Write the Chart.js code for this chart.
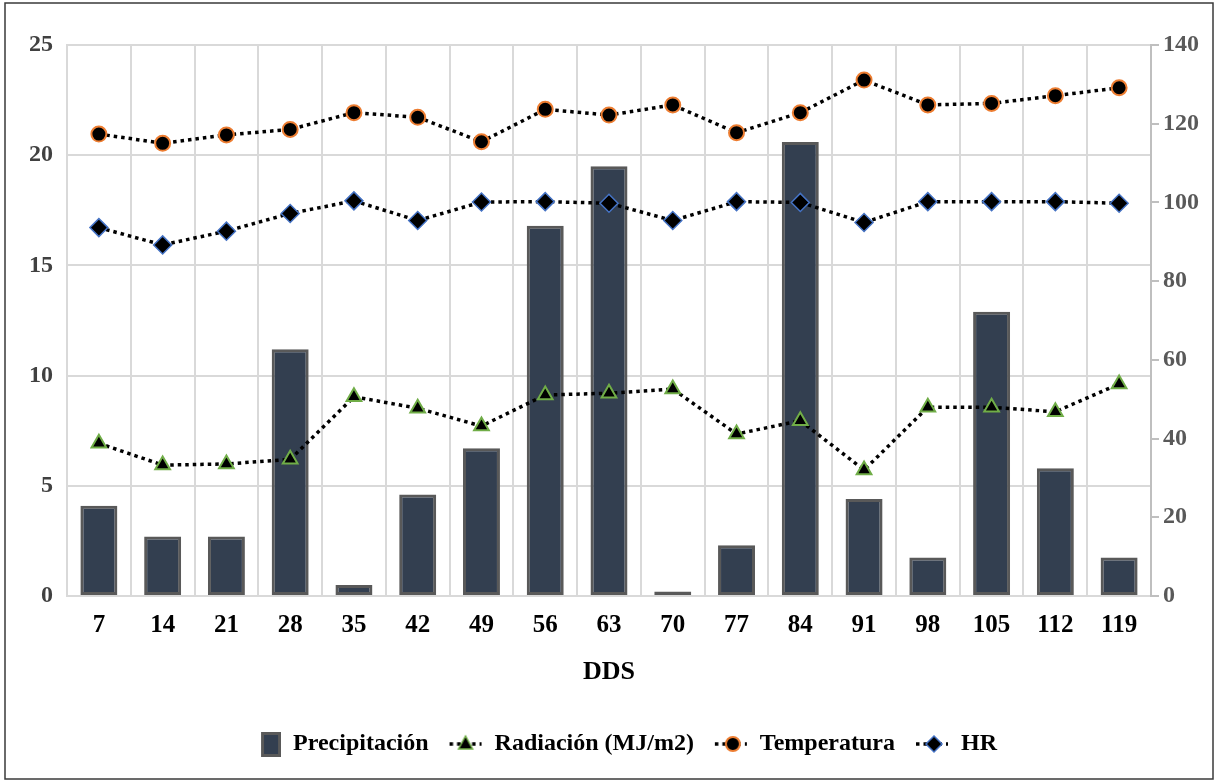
<!DOCTYPE html>
<html>
<head>
<meta charset="utf-8">
<title>Precipitación, radiación, temperatura y HR por DDS</title>
<script src="https://cdn.jsdelivr.net/npm/chart.js@4.4.1/dist/chart.umd.min.js"></script>
<style>
  html, body { margin: 0; padding: 0; background: #ffffff; }
  #wrap { width: 1216px; height: 782px; position: relative; }
</style>
</head>
<body>
<div id="wrap"><canvas id="grafico" width="1216" height="782"></canvas></div>
<script>
// Días después de la siembra (DDS)
const dds = ['7', '14', '21', '28', '35', '42', '49', '56', '63', '70', '77', '84', '91', '98', '105', '112', '119'];
// Precipitación acumulada por periodo (eje izquierdo)
const precipitacion = [4.1, 2.7, 2.7, 11.2, 0.5, 4.6, 6.7, 16.8, 19.5, 0.2, 2.3, 20.6, 4.4, 1.75, 12.9, 5.8, 1.75];
// Radiación (MJ/m2) (eje izquierdo)
const radiacion = [6.93, 5.94, 5.99, 6.2, 9.04, 8.52, 7.71, 9.12, 9.2, 9.39, 7.35, 7.95, 5.72, 8.56, 8.56, 8.36, 9.62];
// Temperatura media (eje izquierdo)
const temperatura = [20.96, 20.54, 20.92, 21.17, 21.93, 21.72, 20.61, 22.08, 21.82, 22.28, 21.02, 21.93, 23.41, 22.28, 22.35, 22.7, 23.06];
// Humedad relativa (eje derecho)
const hr = [93.6, 89.2, 92.7, 97.2, 100.4, 95.4, 100.1, 100.2, 99.8, 95.4, 100.2, 100.0, 94.9, 100.2, 100.2, 100.2, 99.8];

// Rangos de los ejes
const ejeIzq = { min: 0, max: 25, paso: 5 };
const ejeDer = { min: 0, max: 140, paso: 20 };

const FUENTE = '"Liberation Serif", "Times New Roman", serif';
const GRIS_REJILLA = '#d9d9d9';

// Iconos de la leyenda dibujados en pequeños lienzos
function icono(dibujar) {
  const c = document.createElement('canvas');
  c.width = 34; c.height = 26;
  const ctx = c.getContext('2d');
  dibujar(ctx);
  return c;
}
function lineaPunteada(ctx) {
  ctx.save();
  ctx.strokeStyle = '#000';
  ctx.lineWidth = 3.5;
  ctx.setLineDash([3.5, 4]);
  ctx.beginPath();
  ctx.moveTo(1, 13); ctx.lineTo(33, 13);
  ctx.stroke();
  ctx.restore();
}
const iconos = [
  icono(ctx => {
    ctx.fillStyle = '#595959';
    ctx.fillRect(14, 1, 20, 25);
    ctx.fillStyle = '#333f50';
    ctx.fillRect(17, 4, 14, 19);
  }),
  icono(ctx => {
    lineaPunteada(ctx);
    ctx.beginPath();
    ctx.moveTo(17, 5); ctx.lineTo(24, 18); ctx.lineTo(10, 18); ctx.closePath();
    ctx.fillStyle = '#000'; ctx.fill();
    ctx.strokeStyle = '#70ad47'; ctx.lineWidth = 1.5; ctx.stroke();
  }),
  icono(ctx => {
    lineaPunteada(ctx);
    ctx.beginPath();
    ctx.arc(19, 13, 7, 0, Math.PI * 2);
    ctx.fillStyle = '#000'; ctx.fill();
    ctx.strokeStyle = '#ed7d31'; ctx.lineWidth = 2; ctx.stroke();
  }),
  icono(ctx => {
    lineaPunteada(ctx);
    ctx.beginPath();
    ctx.moveTo(19, 5); ctx.lineTo(27, 13); ctx.lineTo(19, 21); ctx.lineTo(11, 13); ctx.closePath();
    ctx.fillStyle = '#000'; ctx.fill();
    ctx.strokeStyle = '#4472c4'; ctx.lineWidth = 1.5; ctx.stroke();
  })
];

// Fondo blanco y marco exterior
const marco = {
  id: 'marco',
  beforeDraw(chart) {
    const ctx = chart.ctx;
    ctx.save();
    ctx.fillStyle = '#ffffff';
    ctx.fillRect(0, 0, chart.width, chart.height);
    ctx.strokeStyle = '#3a3a3a';
    ctx.lineWidth = 1.5;
    ctx.strokeRect(5, 3, 1208, 776);
    ctx.restore();
  }
};

// Desplaza la leyenda un poco a la derecha
const leyendaDesplazada = {
  id: 'leyendaDesplazada',
  afterLayout(chart) {
    if (chart.legend) {
      chart.legend.left += 14;
      chart.legend.right += 14;
    }
  }
};

const estiloLinea = {
  type: 'line',
  borderColor: '#000000',
  borderWidth: 3.5,
  borderDash: [3.5, 4],
  fill: false,
  tension: 0,
  pointBackgroundColor: '#000000',
  order: 0
};

new Chart(document.getElementById('grafico'), {
  type: 'bar',
  data: {
    labels: dds,
    datasets: [
      {
        label: 'Precipitación',
        data: precipitacion,
        backgroundColor: '#333f50',
        borderColor: '#595959',
        borderWidth: 3,
        borderSkipped: false,
        barPercentage: 0.58,
        categoryPercentage: 1,
        yAxisID: 'y',
        order: 1
      },
      Object.assign({}, estiloLinea, {
        label: 'Radiación (MJ/m2)',
        data: radiacion,
        pointStyle: 'triangle',
        pointRadius: 8.5,
        pointHoverRadius: 8.5,
        pointBorderColor: '#70ad47',
        pointBorderWidth: 2,
        yAxisID: 'y'
      }),
      Object.assign({}, estiloLinea, {
        label: 'Temperatura',
        data: temperatura,
        pointStyle: 'circle',
        pointRadius: 7.5,
        pointHoverRadius: 7.5,
        pointBorderColor: '#ed7d31',
        pointBorderWidth: 2,
        yAxisID: 'y'
      }),
      Object.assign({}, estiloLinea, {
        label: 'HR',
        data: hr,
        pointStyle: 'rectRot',
        pointRadius: 9,
        pointHoverRadius: 9,
        pointBorderColor: '#4472c4',
        pointBorderWidth: 1.5,
        yAxisID: 'y1'
      })
    ]
  },
  options: {
    responsive: false,
    animation: false,
    devicePixelRatio: 1,
    layout: { padding: { top: 45, left: 0, right: 0, bottom: 16 } },
    scales: {
      x: {
        offset: true,
        grid: { offset: true, color: GRIS_REJILLA, lineWidth: 2, drawTicks: false },
        border: { color: GRIS_REJILLA, width: 2 },
        ticks: { color: '#000000', padding: 15, font: { family: FUENTE, size: 25, weight: 'bold' } },
        title: {
          display: true,
          text: 'DDS',
          color: '#000000',
          font: { family: FUENTE, size: 26, weight: 'bold' },
          padding: { top: 0, bottom: 24 }
        },
        afterFit(s) { s.height = 116; }
      },
      y: {
        position: 'left',
        min: ejeIzq.min,
        max: ejeIzq.max,
        grid: { color: GRIS_REJILLA, lineWidth: 2, drawTicks: false },
        border: { color: GRIS_REJILLA, width: 2 },
        ticks: { stepSize: ejeIzq.paso, color: '#404040', padding: 14, font: { family: FUENTE, size: 24, weight: 'bold' } },
        afterFit(s) { s.width = 67; }
      },
      y1: {
        position: 'right',
        min: ejeDer.min,
        max: ejeDer.max,
        grid: { drawOnChartArea: false, color: '#bfbfbf', lineWidth: 2, drawTicks: true, tickLength: 8 },
        border: { color: '#bfbfbf', width: 2 },
        ticks: { stepSize: ejeDer.paso, color: '#595959', padding: 4, font: { family: FUENTE, size: 24, weight: 'bold' } },
        afterFit(s) { s.width = 65; }
      }
    },
    plugins: {
      tooltip: { enabled: false },
      legend: {
        position: 'bottom',
        labels: {
          usePointStyle: true,
          pointStyleWidth: 34,
          boxHeight: 24,
          padding: 20,
          color: '#000000',
          font: { family: FUENTE, size: 24, weight: 'bold' },
          sort: (a, b) => a.datasetIndex - b.datasetIndex,
          generateLabels(chart) {
            const items = Chart.defaults.plugins.legend.labels.generateLabels(chart);
            items.forEach(it => { it.pointStyle = iconos[it.datasetIndex]; it.rotation = 0; });
            return items;
          }
        }
      }
    }
  },
  plugins: [marco, leyendaDesplazada]
});
</script>
</body>
</html>
